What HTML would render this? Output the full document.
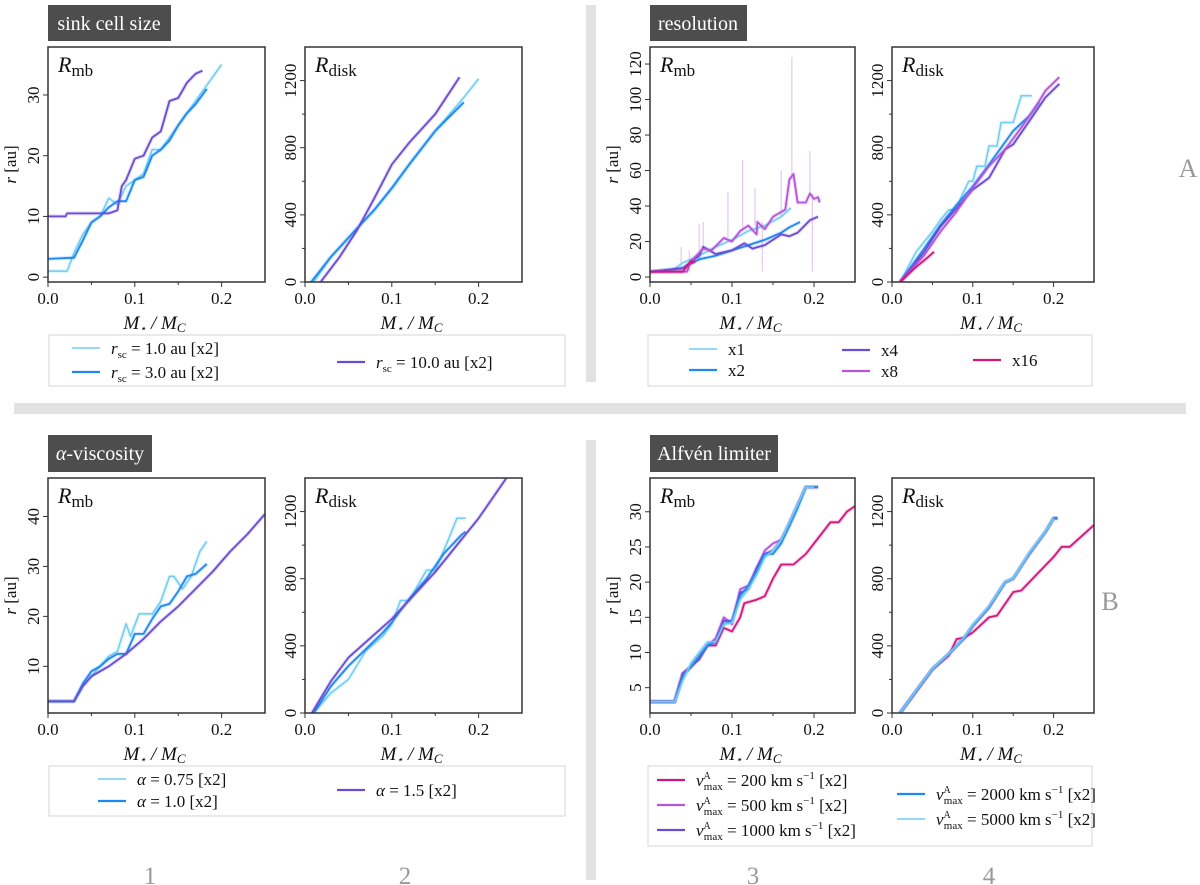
<!DOCTYPE html>
<html><head><meta charset="utf-8"><style>
html,body{margin:0;padding:0;background:#fff;width:1200px;height:885px;overflow:hidden}
svg text{font-family:"Liberation Serif",serif}
</style></head><body>
<svg id="fig" width="1200" height="885" viewBox="0 0 1200 885" xmlns="http://www.w3.org/2000/svg">
<rect x="586" y="5" width="10" height="377" fill="#e2e2e2"/>
<rect x="14" y="403" width="1172" height="11" fill="#e2e2e2"/>
<rect x="586" y="440" width="10" height="440" fill="#e2e2e2"/>
<g><rect x="48" y="5" width="123" height="36" fill="#4d4d4d"/><text x="109" y="30" fill="#fff" font-size="20" text-anchor="middle">sink cell size</text></g>
<g><rect x="650" y="5" width="97" height="36" fill="#4d4d4d"/><text x="698" y="30" fill="#fff" font-size="20" text-anchor="middle">resolution</text></g>
<g><rect x="48" y="435" width="104" height="37" fill="#4d4d4d"/><text x="100" y="460" fill="#fff" font-size="20" text-anchor="middle"><tspan font-style="italic">α</tspan>-viscosity</text></g>
<g><rect x="650" y="435" width="128" height="37" fill="#4d4d4d"/><text x="714" y="460" fill="#fff" font-size="20" text-anchor="middle">Alfvén limiter</text></g>
<text x="1188" y="177" font-size="26" fill="#999" text-anchor="middle">A</text>
<text x="1110" y="610" font-size="26" fill="#999" text-anchor="middle">B</text>
<text x="150" y="884" font-size="25" fill="#999" text-anchor="middle">1</text>
<text x="405" y="884" font-size="25" fill="#999" text-anchor="middle">2</text>
<text x="753" y="884" font-size="25" fill="#999" text-anchor="middle">3</text>
<text x="989" y="884" font-size="25" fill="#999" text-anchor="middle">4</text>
</svg>
<script>
// colours
const C_LB='#6fcdf2', C_B='#1e88f5', C_P='#6a4bd4', C_V='#b455da', C_M='#d3157c';
// ---- Q1: sink cell size, Rmb
const q1mb_r1_x=[0,0.022,0.03,0.04,0.05,0.06,0.07,0.08,0.09,0.1,0.11,0.12,0.13,0.14,0.15,0.16,0.17,0.18,0.2];
const q1mb_r1_y=[1,1,4,7,9,10,13,12,15,16,17,21,21,23,25,27,29,31,35];
const q1mb_r3_x=[0,0.03,0.04,0.05,0.06,0.07,0.08,0.09,0.1,0.11,0.12,0.13,0.14,0.15,0.16,0.17,0.183];
const q1mb_r3_y=[3,3.2,6,9,10,11.5,12.5,12.5,16,16.5,20,21,22.5,25,27,28.5,31];
const q1mb_r10_x=[0,0.02,0.022,0.07,0.08,0.085,0.09,0.1,0.11,0.12,0.13,0.14,0.15,0.16,0.17,0.178];
const q1mb_r10_y=[10,10,10.5,10.5,11,15,16,19.5,20,23,24,29,29.5,32,33.5,34];
// ---- Q1: Rdisk
const q1d_r1_x=[0.01,0.03,0.06,0.08,0.1,0.12,0.15,0.18,0.2];
const q1d_r1_y=[0,150,320,430,555,700,900,1080,1210];
const q1d_r3_x=[0.007,0.03,0.06,0.08,0.1,0.12,0.15,0.183];
const q1d_r3_y=[0,150,320,430,560,700,900,1070];
const q1d_r10_x=[0.018,0.04,0.06,0.08,0.1,0.12,0.15,0.178];
const q1d_r10_y=[0,150,310,500,700,830,1000,1220];
// ---- Q2: resolution, Rmb
const q2mb_x1_x=[0,0.025,0.04,0.06,0.08,0.1,0.12,0.14,0.16,0.172];
const q2mb_x1_y=[3,3,8,12,17,21,26,29,34,39];
const q2mb_x2_x=[0,0.04,0.06,0.08,0.1,0.12,0.14,0.16,0.17,0.183];
const q2mb_x2_y=[3,5,10,12,15,18,21,25,28,31];
const q2mb_x4_x=[0,0.04,0.06,0.065,0.08,0.1,0.115,0.125,0.14,0.16,0.17,0.18,0.195,0.205];
const q2mb_x4_y=[3,5,12,17,13,15,19,16,18,24,23,25,32,34];
const q2mb_x8_x=[0,0.045,0.05,0.065,0.075,0.09,0.1,0.11,0.12,0.13,0.131,0.14,0.15,0.165,0.17,0.175,0.18,0.19,0.195,0.2,0.205,0.207];
const q2mb_x8_y=[3,3,9,16,15,22,20,26,29,24,31,27,34,38,55,58,42,42,47,44,45,42];
const q2mb_x16_x=[0,0.04,0.05,0.052,0.055];
const q2mb_x16_y=[3,3,9,8,9];
const q2mb_spike_x=[0.038,0.048,0.06,0.065,0.095,0.113,0.128,0.137,0.16,0.173,0.195,0.198];
const q2mb_spike_y=[17,15,30,31,48,66,50,3,60,124,71,3];
// ---- Q2: Rdisk
const q2d_x1_x=[0.01,0.03,0.05,0.06,0.07,0.08,0.085,0.095,0.1,0.105,0.115,0.12,0.13,0.135,0.15,0.16,0.173];
const q2d_x1_y=[0,180,300,370,430,430,500,600,600,690,690,810,810,950,950,1110,1110];
const q2d_x2_x=[0.01,0.04,0.06,0.08,0.1,0.12,0.15,0.17,0.182];
const q2d_x2_y=[0,200,340,460,570,700,900,990,1070];
const q2d_x4_x=[0.01,0.04,0.06,0.08,0.1,0.12,0.14,0.15,0.17,0.19,0.207];
const q2d_x4_y=[0,180,330,440,550,620,790,820,960,1100,1180];
const q2d_x8_x=[0.01,0.04,0.06,0.08,0.1,0.12,0.14,0.16,0.18,0.19,0.207];
const q2d_x8_y=[0,160,300,420,560,690,790,920,1060,1140,1220];
const q2d_x16_x=[0.01,0.03,0.045,0.052];
const q2d_x16_y=[0,90,150,180];
// ---- Q3: alpha, Rmb
const q3mb_a075_x=[0,0.03,0.04,0.05,0.06,0.07,0.08,0.09,0.095,0.105,0.12,0.13,0.14,0.145,0.155,0.165,0.175,0.183];
const q3mb_a075_y=[3,3,6,8,10,12,13,18.5,16,20.5,20.5,23,28,28,25.5,28,33,35];
const q3mb_a10_x=[0,0.03,0.04,0.05,0.06,0.07,0.08,0.09,0.1,0.11,0.12,0.13,0.14,0.15,0.16,0.17,0.183];
const q3mb_a10_y=[3,3,6.5,9,10,11.5,12.5,12.5,16.5,16.5,19.5,22,22.5,25,28,28.5,30.5];
const q3mb_a15_x=[0,0.03,0.04,0.05,0.07,0.09,0.11,0.13,0.15,0.17,0.19,0.21,0.23,0.25];
const q3mb_a15_y=[3,3,6,8,10,12.5,15.5,19,22,25.5,29,33,36.5,40.5];
// ---- Q3: Rdisk
const q3d_a075_x=[0.01,0.03,0.05,0.07,0.09,0.1,0.11,0.12,0.13,0.14,0.15,0.165,0.175,0.185];
const q3d_a075_y=[0,120,200,370,460,530,670,670,760,850,850,1030,1160,1160];
const q3d_a10_x=[0.01,0.03,0.05,0.07,0.09,0.1,0.12,0.14,0.16,0.18,0.185];
const q3d_a10_y=[0,160,280,380,480,540,680,800,950,1060,1080];
const q3d_a15_x=[0.008,0.03,0.05,0.1,0.15,0.2,0.232];
const q3d_a15_y=[0,190,330,560,840,1160,1400];
// ---- Q4: Alfven, Rmb
const q4mb_v200_x=[0,0.03,0.04,0.05,0.06,0.07,0.08,0.09,0.1,0.11,0.115,0.13,0.14,0.15,0.16,0.175,0.19,0.2,0.21,0.22,0.23,0.24,0.25];
const q4mb_v200_y=[3,3,7,8,9.5,11,11,13.5,13,15,17,17.5,18,20.5,22.5,22.5,24,25.5,27,28.5,28.5,30,30.8];
const q4mb_v500_x=[0,0.03,0.04,0.05,0.06,0.07,0.08,0.09,0.1,0.11,0.12,0.13,0.14,0.15,0.16,0.17,0.18,0.19,0.205];
const q4mb_v500_y=[3,3,7,8,9.5,11,12,15,14,19,19.5,22,24.5,25.5,26,28,31,33.5,33.5];
const q4mb_v1000_x=[0,0.03,0.04,0.05,0.06,0.07,0.08,0.09,0.1,0.11,0.12,0.13,0.14,0.15,0.16,0.17,0.18,0.19,0.205];
const q4mb_v1000_y=[3,3,7,8,9,11,11.5,14.5,14.5,18.5,19,22,24,24.5,26,28.5,31,33.5,33.5];
const q4mb_v2000_x=[0,0.03,0.04,0.05,0.06,0.07,0.08,0.09,0.1,0.11,0.12,0.13,0.14,0.15,0.16,0.17,0.18,0.19,0.205];
const q4mb_v2000_y=[3,3,6.5,8,9.5,11,11.5,14,14.5,18,19.5,21.5,24,24,25.5,28,30.5,33.5,33.5];
const q4mb_v5000_x=[0,0.03,0.04,0.05,0.06,0.07,0.08,0.09,0.1,0.11,0.12,0.13,0.14,0.15,0.16,0.17,0.18,0.19,0.2];
const q4mb_v5000_y=[3,3,6,8.5,10,11.5,11.5,14,14.2,17.5,19,21,23.5,24.5,26,28.5,31,33.5,33.5];
// ---- Q4: Rdisk
const q4d_v200_x=[0.01,0.03,0.05,0.07,0.08,0.09,0.1,0.12,0.13,0.15,0.16,0.18,0.2,0.21,0.22,0.25];
const q4d_v200_y=[0,130,260,340,440,450,480,570,580,720,730,830,930,990,990,1120];
const q4d_v500_x=[0.01,0.03,0.05,0.07,0.09,0.1,0.12,0.14,0.15,0.17,0.19,0.2,0.205];
const q4d_v500_y=[0,130,260,350,450,520,630,780,800,950,1080,1160,1160];
const q4d_v1000_x=[0.01,0.03,0.05,0.07,0.09,0.1,0.12,0.14,0.15,0.17,0.19,0.2,0.205];
const q4d_v1000_y=[0,130,262,352,448,518,628,778,802,948,1078,1160,1160];
const q4d_v2000_x=[0.01,0.03,0.05,0.07,0.09,0.1,0.12,0.14,0.15,0.17,0.19,0.2,0.205];
const q4d_v2000_y=[0,132,262,350,452,522,632,780,800,952,1080,1160,1160];
const q4d_v5000_x=[0.01,0.03,0.05,0.07,0.09,0.1,0.12,0.14,0.15,0.17,0.19,0.2];
const q4d_v5000_y=[0,134,264,352,455,525,635,782,802,955,1082,1160];

const xTicks=[0,0.1,0.2], xTickLabels=['0.0','0.1','0.2'];
const diskTicks=[0,400,800,1200];

const NS='http://www.w3.org/2000/svg';
const fig=document.getElementById('fig');
function el(tag,attrs,parent){const e=document.createElementNS(NS,tag);for(const k in attrs)e.setAttribute(k,attrs[k]);(parent||fig).appendChild(e);return e;}

function plot(name,box,ymin,ymax,yticks,yminor,label,showYLabel,series,spikes){
  const g=el('g',{});
  
  
  const sx=v=>box.x0+(v-0)/(0.25)*(box.x1-box.x0);
  const sy=v=>box.y1-(v-ymin)/(ymax-ymin)*(box.y1-box.y0);
  const clip='clip-'+name;
  const cp=el('clipPath',{id:clip},g);el('rect',{x:box.x0,y:box.y0,width:box.x1-box.x0,height:box.y1-box.y0},cp);
  const sg=el('g',{'clip-path':'url(#'+clip+')'},g);
  if(spikes){
    for(let i=0;i<spikes.x.length;i++){
      const sp=el('line',{x1:sx(spikes.x[i]),x2:sx(spikes.x[i]),y1:sy(spikes.base[i]),y2:sy(spikes.y[i]),stroke:spikes.color,'stroke-width':1.3,opacity:0.3},sg);
      
      
    }
  }
  series.forEach(s=>{
    const d=s.x.map((v,i)=>(i?'L':'M')+sx(v).toFixed(1)+','+sy(s.y[i]).toFixed(1)).join('');
    el('path',{d:d,fill:'none',stroke:s.c,'stroke-width':4,opacity:0.2,'stroke-linejoin':'round'},sg);
    const p=el('path',{d:d,fill:'none',stroke:s.c,'stroke-width':s.w||1.8,'stroke-linejoin':'round'},sg);
    
    
  });
  const fr=el('rect',{x:box.x0,y:box.y0,width:box.x1-box.x0,height:box.y1-box.y0,fill:'none',stroke:'#333','stroke-width':1.5},g);
  
  
  xTicks.forEach((t,i)=>{
    el('line',{x1:sx(t),x2:sx(t),y1:box.y1,y2:box.y1+5,stroke:'#333','stroke-width':1},g);
    const tx=el('text',{x:sx(t),y:box.y1+22,'font-size':17,'text-anchor':'middle',fill:'#111'},g);
    tx.textContent=xTickLabels[i];
    
    
  });
  [0.05,0.15].forEach(t=>el('line',{x1:sx(t),x2:sx(t),y1:box.y1,y2:box.y1+3,stroke:'#333','stroke-width':1},g));
  yticks.forEach(t=>{
    const y=sy(t);
    el('line',{x1:box.x0-5,x2:box.x0,y1:y,y2:y,stroke:'#333','stroke-width':1},g);
    const tx=el('text',{x:0,y:0,'font-size':17,'text-anchor':'middle',fill:'#111',transform:'translate('+(box.x0-9)+','+y+') rotate(-90)'},g);
    tx.textContent=String(t);
    
    
  });
  (yminor||[]).forEach(t=>{const y=sy(t);el('line',{x1:box.x0-3,x2:box.x0,y1:y,y2:y,stroke:'#333','stroke-width':1},g);});
  const pl=el('text',{x:box.x0+10,y:box.y0+25,'font-size':22,'font-style':'italic',fill:'#111'},g);
  pl.innerHTML='R<tspan font-style="normal" font-size="17" dy="4">'+label+'</tspan>';
  
  
  const xl=el('text',{x:(box.x0+box.x1)/2-2,y:box.y1+47,'font-size':19,'font-style':'italic','text-anchor':'middle',fill:'#111'},g);
  xl.innerHTML='M<tspan font-size="11" dy="3">⋆</tspan><tspan dy="-3"> / M</tspan><tspan font-size="13" dy="3">C</tspan>';
  
  
  if(showYLabel){
    const yl=el('text',{x:0,y:0,'font-size':17,'text-anchor':'middle',fill:'#111',transform:'translate('+(box.x0-32)+','+((box.y0+box.y1)/2)+') rotate(-90)'},g);
    yl.innerHTML='<tspan font-style="italic">r</tspan> [au]';
    
    
  }
}
const B1={x0:48,x1:265,y0:47,y1:282}, B2={x0:305,x1:522,y0:47,y1:282};
const B3={x0:650,x1:855,y0:47,y1:282}, B4={x0:892,x1:1094,y0:47,y1:282};
const B5={x0:48,x1:265,y0:478,y1:713}, B6={x0:305,x1:522,y0:478,y1:713};
const B7={x0:650,x1:855,y0:478,y1:713}, B8={x0:892,x1:1094,y0:478,y1:713};
const dMinor=[200,600,1000];
plot('plot-sink-rmb',B1,-0.8,37.9,[0,10,20,30],[],'mb',true,[
 {n:'rsc-1',x:q1mb_r1_x,y:q1mb_r1_y,c:C_LB,w:1.5},{n:'rsc-3',x:q1mb_r3_x,y:q1mb_r3_y,c:C_B},{n:'rsc-10',x:q1mb_r10_x,y:q1mb_r10_y,c:C_P}]);
plot('plot-sink-rdisk',B2,0,1400,diskTicks,dMinor,'disk',false,[
 {n:'rsc-1',x:q1d_r1_x,y:q1d_r1_y,c:C_LB,w:1.5},{n:'rsc-3',x:q1d_r3_x,y:q1d_r3_y,c:C_B},{n:'rsc-10',x:q1d_r10_x,y:q1d_r10_y,c:C_P}]);
plot('plot-resolution-rmb',B3,-2.8,129.6,[0,20,40,60,80,100,120],[],'mb',true,[
 {n:'x1',x:q2mb_x1_x,y:q2mb_x1_y,c:C_LB,w:1.5},{n:'x2',x:q2mb_x2_x,y:q2mb_x2_y,c:C_B},{n:'x4',x:q2mb_x4_x,y:q2mb_x4_y,c:C_P},{n:'x8',x:q2mb_x8_x,y:q2mb_x8_y,c:C_V},{n:'x16',x:q2mb_x16_x,y:q2mb_x16_y,c:C_M}],
 {x:q2mb_spike_x,y:q2mb_spike_y,base:q2mb_spike_x.map(v=>{let b=3;for(let i=0;i<q2mb_x8_x.length;i++)if(q2mb_x8_x[i]<=v)b=q2mb_x8_y[i];return b;}),color:C_V});
plot('plot-resolution-rdisk',B4,0,1400,diskTicks,dMinor,'disk',false,[
 {n:'x1',x:q2d_x1_x,y:q2d_x1_y,c:C_LB,w:1.5},{n:'x2',x:q2d_x2_x,y:q2d_x2_y,c:C_B},{n:'x4',x:q2d_x4_x,y:q2d_x4_y,c:C_P},{n:'x8',x:q2d_x8_x,y:q2d_x8_y,c:C_V},{n:'x16',x:q2d_x16_x,y:q2d_x16_y,c:C_M}]);
plot('plot-alpha-rmb',B5,0.66,47.7,[10,20,30,40],[],'mb',true,[
 {n:'alpha-075',x:q3mb_a075_x,y:q3mb_a075_y,c:C_LB,w:1.5},{n:'alpha-10',x:q3mb_a10_x,y:q3mb_a10_y,c:C_B},{n:'alpha-15',x:q3mb_a15_x,y:q3mb_a15_y,c:C_P}]);
plot('plot-alpha-rdisk',B6,0,1400,diskTicks,dMinor,'disk',false,[
 {n:'alpha-075',x:q3d_a075_x,y:q3d_a075_y,c:C_LB,w:1.5},{n:'alpha-10',x:q3d_a10_x,y:q3d_a10_y,c:C_B},{n:'alpha-15',x:q3d_a15_x,y:q3d_a15_y,c:C_P}]);
plot('plot-alfven-rmb',B7,1.4,34.8,[5,10,15,20,25,30],[],'mb',true,[
 {n:'v200',x:q4mb_v200_x,y:q4mb_v200_y,c:C_M},{n:'v500',x:q4mb_v500_x,y:q4mb_v500_y,c:C_V},{n:'v1000',x:q4mb_v1000_x,y:q4mb_v1000_y,c:C_P},{n:'v2000',x:q4mb_v2000_x,y:q4mb_v2000_y,c:C_B},{n:'v5000',x:q4mb_v5000_x,y:q4mb_v5000_y,c:C_LB,w:1.5}]);
plot('plot-alfven-rdisk',B8,0,1400,diskTicks,dMinor,'disk',false,[
 {n:'v200',x:q4d_v200_x,y:q4d_v200_y,c:C_M},{n:'v500',x:q4d_v500_x,y:q4d_v500_y,c:C_V},{n:'v1000',x:q4d_v1000_x,y:q4d_v1000_y,c:C_P},{n:'v2000',x:q4d_v2000_x,y:q4d_v2000_y,c:C_B},{n:'v5000',x:q4d_v5000_x,y:q4d_v5000_y,c:C_LB,w:1.5}]);

function legend(name,box,entries){
  const g=el('g',{});
  
  
  el('rect',{x:box.x,y:box.y,width:box.w,height:box.h,fill:'#fff',stroke:'#ddd','stroke-width':1.2},g);
  entries.forEach(e=>{
    const eg=el('g',{},g);
    
    
    el('line',{x1:e.lx,x2:e.lx+28,y1:e.y,y2:e.y,stroke:e.c,'stroke-width':e.w||2.2},eg);
    const t=el('text',{x:e.lx+39,y:e.y+6,'font-size':17,fill:'#111','xml:space':'preserve'},eg);
    t.innerHTML=e.t;
  });
}
const rsc=v=>'<tspan font-style="italic">r</tspan><tspan font-size="11" dy="4">sc</tspan><tspan dy="-4"> = '+v+' au  [x2]</tspan>';
const al=v=>'<tspan font-style="italic">α</tspan> = '+v+'  [x2]';
const va=v=>'<tspan font-style="italic">v</tspan><tspan font-size="10" dy="-7">A</tspan><tspan font-size="11" dx="-7" dy="11">max</tspan><tspan dy="-4"> = '+v+' km s</tspan><tspan font-size="11" dy="-7">−1</tspan><tspan dy="7">  [x2]</tspan>';
legend('legend-sink-cell-size',{x:49,y:335,w:516,h:51},[
 {lx:72,y:348,c:C_LB,w:1.6,t:rsc('1.0')},{lx:72,y:372,c:C_B,t:rsc('3.0')},{lx:337,y:362,c:C_P,t:rsc('10.0')}]);
legend('legend-resolution',{x:648,y:335,w:444,h:51},[
 {lx:689,y:349,c:C_LB,w:1.6,t:'x1'},{lx:689,y:370,c:C_B,t:'x2'},{lx:842,y:350,c:C_P,t:'x4'},{lx:842,y:371,c:C_V,t:'x8'},{lx:973,y:360,c:C_M,t:'x16'}]);
legend('legend-alpha-viscosity',{x:49,y:766,w:516,h:50},[
 {lx:98,y:779,c:C_LB,w:1.6,t:al('0.75')},{lx:98,y:801,c:C_B,t:al('1.0')},{lx:337,y:790,c:C_P,t:al('1.5')}]);
legend('legend-alfven-limiter',{x:648,y:766,w:444,h:80},[
 {lx:657,y:780,c:C_M,t:va('200')},{lx:657,y:805,c:C_V,t:va('500')},{lx:657,y:830,c:C_P,t:va('1000')},
 {lx:897,y:794,c:C_B,t:va('2000')},{lx:897,y:819,c:C_LB,w:1.6,t:va('5000')}]);
</script>
</body></html>
